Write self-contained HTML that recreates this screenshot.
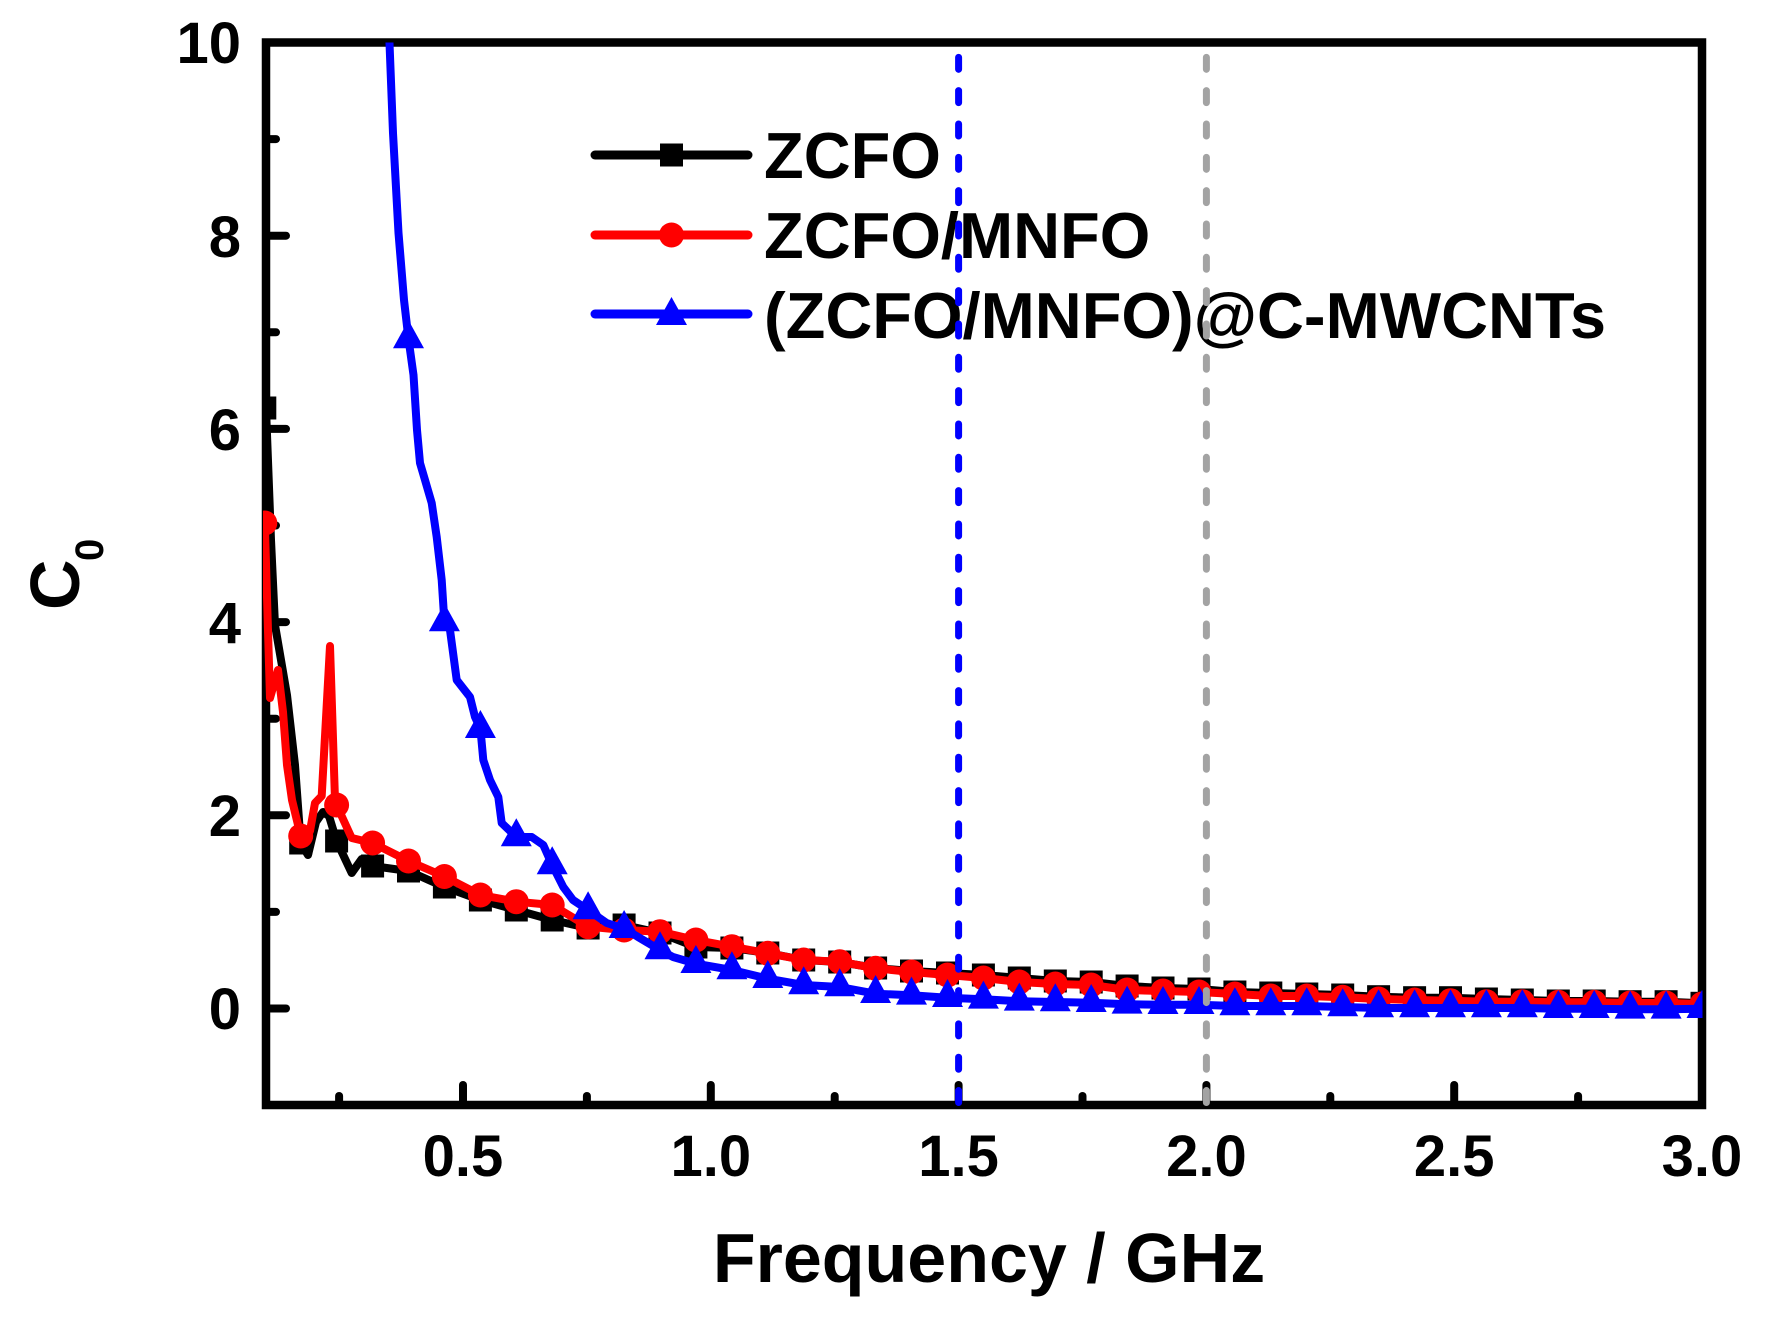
<!DOCTYPE html>
<html>
<head>
<meta charset="utf-8">
<style>
html,body{margin:0;padding:0;background:#fff;}
svg{display:block;}
text{font-family:"Liberation Sans",Arial,sans-serif;font-weight:bold;fill:#000;}
</style>
</head>
<body>
<svg width="1765" height="1320" viewBox="0 0 1765 1320" xmlns="http://www.w3.org/2000/svg">
<defs>
  <clipPath id="plot"><rect x="263" y="42.5" width="1439.5" height="1062.5"/></clipPath>
  <marker id="msq" markerUnits="userSpaceOnUse" markerWidth="23" markerHeight="23" refX="11.5" refY="11.5" style="overflow:visible">
    <rect x="0" y="0" width="23" height="23" fill="#000"/>
  </marker>
  <marker id="mci" markerUnits="userSpaceOnUse" markerWidth="25" markerHeight="25" refX="12.5" refY="12.5" style="overflow:visible">
    <circle cx="12.5" cy="12.5" r="12.5" fill="#ff0000"/>
  </marker>
  <marker id="mtr" markerUnits="userSpaceOnUse" markerWidth="31" markerHeight="28" refX="15.5" refY="18.7" style="overflow:visible">
    <polygon points="15.5,0 0,28 31,28" fill="#0000ff"/>
  </marker>
</defs>

<!-- axes frame -->
<rect x="266" y="42.5" width="1436" height="1062.5" fill="none" stroke="#000" stroke-width="8.5"/>

<!-- ticks -->
<g stroke="#000" stroke-width="8" stroke-linecap="round">
  <line x1="266" y1="235.7" x2="286" y2="235.7"/>
  <line x1="266" y1="428.9" x2="286" y2="428.9"/>
  <line x1="266" y1="622.1" x2="286" y2="622.1"/>
  <line x1="266" y1="815.3" x2="286" y2="815.3"/>
  <line x1="266" y1="1008.5" x2="286" y2="1008.5"/>
  <line x1="266" y1="139.1" x2="276" y2="139.1"/>
  <line x1="266" y1="332.3" x2="276" y2="332.3"/>
  <line x1="266" y1="525.5" x2="276" y2="525.5"/>
  <line x1="266" y1="718.7" x2="276" y2="718.7"/>
  <line x1="266" y1="911.9" x2="276" y2="911.9"/>

  <line x1="463" y1="1105" x2="463" y2="1085"/>
  <line x1="710.8" y1="1105" x2="710.8" y2="1085"/>
  <line x1="958.6" y1="1105" x2="958.6" y2="1085"/>
  <line x1="1206.4" y1="1105" x2="1206.4" y2="1085"/>
  <line x1="1454.2" y1="1105" x2="1454.2" y2="1085"/>
  <line x1="339.1" y1="1105" x2="339.1" y2="1096"/>
  <line x1="586.9" y1="1105" x2="586.9" y2="1096"/>
  <line x1="834.7" y1="1105" x2="834.7" y2="1096"/>
  <line x1="1082.5" y1="1105" x2="1082.5" y2="1096"/>
  <line x1="1330.3" y1="1105" x2="1330.3" y2="1096"/>
  <line x1="1578.1" y1="1105" x2="1578.1" y2="1096"/>
</g>

<!-- tick labels -->
<g font-size="58" text-anchor="end">
  <text x="241" y="1029">0</text>
  <text x="241" y="836">2</text>
  <text x="241" y="643">4</text>
  <text x="241" y="450">6</text>
  <text x="241" y="257">8</text>
  <text x="241" y="63">10</text>
</g>
<g font-size="58" text-anchor="middle">
  <text x="463" y="1176">0.5</text>
  <text x="710.8" y="1176">1.0</text>
  <text x="958.6" y="1176">1.5</text>
  <text x="1206.4" y="1176">2.0</text>
  <text x="1454.2" y="1176">2.5</text>
  <text x="1702" y="1176">3.0</text>
</g>

<!-- axis titles -->
<text x="989" y="1282" font-size="70" text-anchor="middle">Frequency / GHz</text>
<text transform="translate(79,610) rotate(-90)" font-size="70">C</text>
<text transform="translate(103,561) rotate(-90)" font-size="40">0</text>

<!-- data -->
<g clip-path="url(#plot)">
  <polyline fill="none" stroke="#000" stroke-width="8" stroke-linejoin="round" stroke-linecap="round"
    points="266,408 271,540 275,625 287,695 295,765 300.7,843 308,855 316,822 323,812 329,816 336.6,841 351.7,873 361.7,859 372.6,866 408.5,871 444.4,887 480.4,900 516.3,910 552.2,920 588.1,928 624.1,925 660,933 695.9,947 731.9,948 767.8,953 803.7,960 839.7,962 875.6,968 911.5,971 947.5,973 983.4,975 1019.3,978 1055.3,981 1091.2,982 1127.1,986 1163,988 1199,989 1234.9,992 1270.8,993 1306.8,994 1342.7,995 1378.6,996.7 1414.6,997.7 1450.5,997.7 1486.4,999 1522.3,1000 1558.3,1001 1594.2,1001 1630.1,1001.7 1666.1,1001.7 1702,1003.3"/>
  <polyline fill="none" stroke="none" marker-start="url(#msq)" marker-mid="url(#msq)" marker-end="url(#msq)"
    points="264.8,408 300.7,843 336.6,841 372.6,866 408.5,871 444.4,887 480.4,900 516.3,910 552.2,920 588.1,928 624.1,925 660,933 695.9,947 731.9,948 767.8,953 803.7,960 839.7,962 875.6,968 911.5,971 947.5,973 983.4,975 1019.3,978 1055.3,981 1091.2,982 1127.1,986 1163,988 1199,989 1234.9,992 1270.8,993 1306.8,994 1342.7,995 1378.6,996.7 1414.6,997.7 1450.5,997.7 1486.4,999 1522.3,1000 1558.3,1001 1594.2,1001 1630.1,1001.7 1666.1,1001.7 1702,1003.3"/>

  <polyline fill="none" stroke="#ff0000" stroke-width="8" stroke-linejoin="round" stroke-linecap="round"
    points="264.8,523 270,698 278,670 283,712 287,765 292,800 300.7,836 310,831 315,803 321.7,796 330,646 335,800 336.6,805 351.7,838 372.6,843 408.5,861 444.4,876.5 480.4,895 516.3,901.7 552.2,905 588.1,926.7 624.1,930 660,931.7 695.9,940 731.9,946.7 767.8,953.3 803.7,960 839.7,961.7 875.6,968.3 911.5,972 947.5,975 983.4,978 1019.3,982 1055.3,984 1091.2,985 1127.1,990 1163,991 1199,992 1234.9,994 1270.8,996 1306.8,996 1342.7,997.3 1378.6,999 1414.6,1000 1450.5,1000.7 1486.4,1001.7 1522.3,1001.7 1558.3,1002.3 1594.2,1002.3 1630.1,1003 1666.1,1003 1702,1004"/>
  <polyline fill="none" stroke="none" marker-start="url(#mci)" marker-mid="url(#mci)" marker-end="url(#mci)"
    points="264.8,523 300.7,836 336.6,805 372.6,843 408.5,861 444.4,876.5 480.4,895 516.3,901.7 552.2,905 588.1,926.7 624.1,930 660,931.7 695.9,940 731.9,946.7 767.8,953.3 803.7,960 839.7,961.7 875.6,968.3 911.5,972 947.5,975 983.4,978 1019.3,982 1055.3,984 1091.2,985 1127.1,990 1163,991 1199,992 1234.9,994 1270.8,996 1306.8,996 1342.7,997.3 1378.6,999 1414.6,1000 1450.5,1000.7 1486.4,1001.7 1522.3,1001.7 1558.3,1002.3 1594.2,1002.3 1630.1,1003 1666.1,1003 1702,1004"/>

  <polyline fill="none" stroke="#0000ff" stroke-width="8" stroke-linejoin="round" stroke-linecap="round"
    points="386,-10 389.5,43 393,133 398.5,233 404,300 408.5,339 413.5,375 417,430 420,463 425,480 431.7,503 436.7,537 441.7,580 444.4,622 450,630 456.7,680 470,697 475,717 480.4,728.7 483.3,760 490,780 498.3,797 501.7,823 516.3,837 531.7,837 543.3,845 552.2,865 563.3,887 573,900 588.1,910 606.7,923 624.1,928.7 660,950 673,957 695.9,963.7 731.9,970 767.8,978.7 803.7,985 839.7,987 875.6,993.7 911.5,995.3 947.5,997.7 983.4,999.3 1019.3,1001.3 1055.3,1002 1091.2,1002.7 1127.1,1004.3 1163,1004.7 1199,1004.7 1234.9,1006 1270.8,1006 1306.8,1006 1342.7,1007 1378.6,1008 1414.6,1008 1450.5,1008 1486.4,1008 1522.3,1008 1558.3,1008.7 1594.2,1008.7 1630.1,1009.3 1666.1,1009.3 1702,1008.7"/>
  <polyline fill="none" stroke="none" marker-start="url(#mtr)" marker-mid="url(#mtr)" marker-end="url(#mtr)"
    points="408.5,339 444.4,622 480.4,728.7 516.3,837 552.2,865 588.1,910 624.1,928.7 660,950 695.9,963.7 731.9,970 767.8,978.7 803.7,985 839.7,987 875.6,993.7 911.5,995.3 947.5,997.7 983.4,999.3 1019.3,1001.3 1055.3,1002 1091.2,1002.7 1127.1,1004.3 1163,1004.7 1199,1004.7 1234.9,1006 1270.8,1006 1306.8,1006 1342.7,1007 1378.6,1008 1414.6,1008 1450.5,1008 1486.4,1008 1522.3,1008 1558.3,1008.7 1594.2,1008.7 1630.1,1009.3 1666.1,1009.3 1702,1008.7"/>
</g>

<!-- legend -->
<g stroke-width="9" stroke-linecap="round">
  <line x1="595" y1="155" x2="748" y2="155" stroke="#000"/>
  <line x1="595" y1="235" x2="748" y2="235" stroke="#ff0000"/>
  <line x1="595" y1="314" x2="748" y2="314" stroke="#0000ff"/>
</g>
<rect x="660" y="143.5" width="23" height="23" fill="#000"/>
<circle cx="671.5" cy="235" r="12.5" fill="#ff0000"/>
<polygon points="671.5,297 656,325 687,325" fill="#0000ff"/>
<g font-size="65">
  <text x="764" y="178">ZCFO</text>
  <text x="764" y="258">ZCFO/MNFO</text>
  <text x="764" y="338">(ZCFO/MNFO)@C-MWCNTs</text>
</g>

<!-- dashed reference lines -->
<line x1="958.6" y1="43" x2="958.6" y2="1105" stroke="#0000ff" stroke-width="7" stroke-linecap="round" stroke-dasharray="12 21.33" stroke-dashoffset="19"/>
<line x1="1206.4" y1="43" x2="1206.4" y2="1105" stroke="#a3a3a3" stroke-width="7" stroke-linecap="round" stroke-dasharray="12 21.33" stroke-dashoffset="19"/>
</svg>
</body>
</html>
